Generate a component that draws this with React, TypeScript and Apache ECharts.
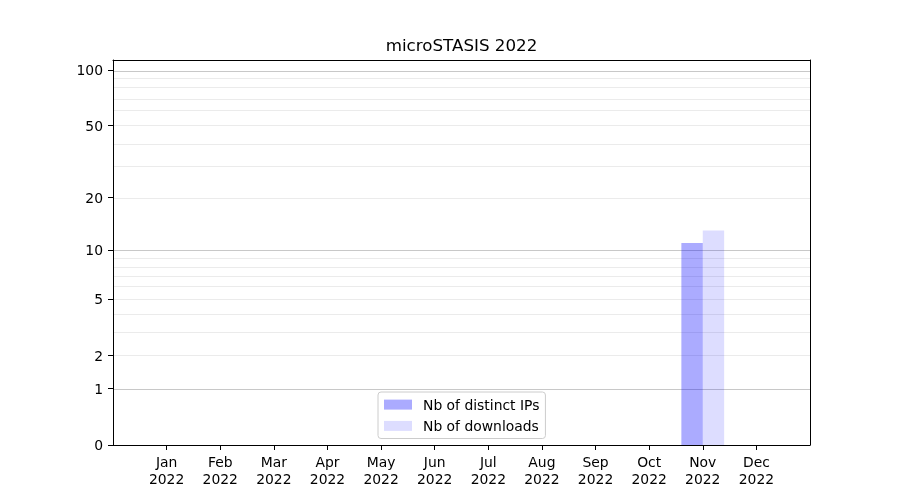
import React, { useEffect, useRef } from "react";
import * as echarts from "echarts";

const months = ["Jan", "Feb", "Mar", "Apr", "May", "Jun", "Jul", "Aug", "Sep", "Oct", "Nov", "Dec"];
const year = "2022";
const distinctIPs = [0, 0, 0, 0, 0, 0, 0, 0, 0, 0, 11, 0];
const downloads = [0, 0, 0, 0, 0, 0, 0, 0, 0, 0, 13, 0];
const yTicks = [0, 1, 2, 5, 10, 20, 50, 100];
const majorGrid = [1, 10, 100];
const minorGrid = [2, 3, 4, 5, 6, 7, 8, 9, 20, 30, 40, 50, 60, 70, 80, 90];
const yMaxValue = 113.2;

const f = (v: number) => Math.log10(1 + v);
const FONT = "DejaVu Sans";

export default function App() {
  const ref = useRef<HTMLDivElement>(null);
  useEffect(() => {
    const chart = echarts.init(ref.current!, undefined, { renderer: "svg" });
    const gridLines = [
      ...minorGrid.map((v) => ({ yAxis: f(v), lineStyle: { color: "#ebebeb", width: 1, type: "solid" } })),
      ...majorGrid.map((v) => ({ yAxis: f(v), lineStyle: { color: "#c8c8c8", width: 1, type: "solid" } })),
    ];
    const frameAxis = {
      show: true,
      axisLine: { show: true, onZero: false, lineStyle: { color: "#000", width: 1 } },
      axisTick: { show: false },
      axisLabel: { show: false },
      splitLine: { show: false },
    };
    chart.setOption({
      animation: false,
      textStyle: { fontFamily: FONT },
      title: {
        text: "microSTASIS 2022",
        left: 461.5,
        textAlign: "center",
        top: 36,
        padding: 0,
        textStyle: { fontFamily: FONT, fontSize: 16.7, fontWeight: "normal", color: "#000" },
      },
      grid: {
        left: 113,
        right: 90,
        top: 60,
        bottom: 55,
        show: false,
        containLabel: false,
      },
      legend: {
        orient: "vertical",
        left: 378,
        top: 392,
        padding: [5.6, 6, 5.6, 6],
        itemWidth: 28,
        itemHeight: 10,
        itemGap: 7.3,
        backgroundColor: "rgba(255,255,255,0.8)",
        borderColor: "#cccccc",
        borderWidth: 1,
        borderRadius: 3,
        textStyle: { fontFamily: FONT, fontSize: 13.9, color: "#000", lineHeight: 14, padding: [0, 0, 0, 6] },
        data: [
          { name: "Nb of distinct IPs", icon: "rect" },
          { name: "Nb of downloads", icon: "rect" },
        ],
      },
      xAxis: [
        {
          type: "value",
          position: "bottom",
          min: -1,
          max: 12,
          splitLine: { show: false },
          axisLine: { show: true, onZero: false, lineStyle: { color: "#000", width: 1 } },
          axisTick: { show: true, length: 5, lineStyle: { color: "#000" }, customValues: months.map((_, i) => i) },
          axisLabel: {
            customValues: months.map((_, i) => i),
            formatter: (v: number) => `${months[Math.round(v)]}\n${year}`,
            fontFamily: FONT,
            fontSize: 13.9,
            color: "#000",
            lineHeight: 16.7,
            margin: 9,
          },
        },
        { type: "value", position: "top", min: -1, max: 12, ...frameAxis },
      ],
      yAxis: [
        {
          type: "value",
          position: "left",
          min: 0,
          max: f(yMaxValue),
          splitLine: { show: false },
          axisLine: { show: true, onZero: false, lineStyle: { color: "#000", width: 1 } },
          axisTick: { show: true, length: 5, lineStyle: { color: "#000" }, customValues: yTicks.map(f) },
          axisLabel: {
            customValues: yTicks.map(f),
            formatter: (v: number) => String(Math.round(Math.pow(10, v) - 1)),
            fontFamily: FONT,
            fontSize: 13.9,
            color: "#000",
            margin: 10,
          },
        },
        { type: "value", position: "right", min: 0, max: f(yMaxValue), ...frameAxis },
      ],
      series: [
        {
          name: "Nb of distinct IPs",
          type: "bar",
          xAxisIndex: 0,
          yAxisIndex: 0,
          barWidth: 21.4,
          barGap: "0%",
          itemStyle: { color: "rgba(0,0,255,0.33)" },
          data: distinctIPs.map((v, i) => [i, f(v)]),
          markLine: {
            silent: true,
            symbol: "none",
            label: { show: false },
            z: 0,
            data: gridLines,
          },
        },
        {
          name: "Nb of downloads",
          type: "bar",
          xAxisIndex: 0,
          yAxisIndex: 0,
          barWidth: 21.4,
          barGap: "0%",
          itemStyle: { color: "rgba(0,0,255,0.135)" },
          data: downloads.map((v, i) => [i, f(v)]),
        },
      ],
    });
    return () => chart.dispose();
  }, []);
  return <div ref={ref} style={{ position: "fixed", left: 0, top: 0, width: 900, height: 500 }} />;
}
